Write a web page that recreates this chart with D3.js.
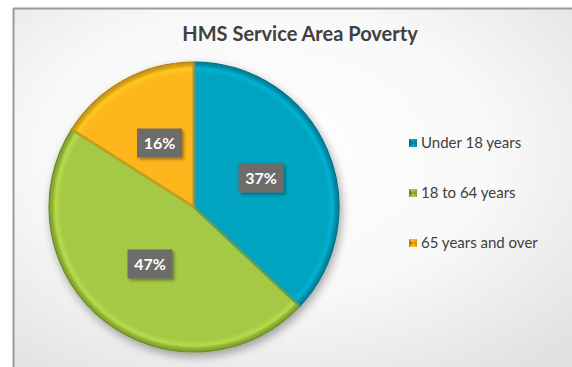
<!DOCTYPE html>
<html>
<head>
<meta charset="utf-8">
<script src="https://cdn.jsdelivr.net/npm/d3@7/dist/d3.min.js"></script>
<style>
  html, body { margin: 0; padding: 0; background: #ffffff; }
  svg { display: block; }
</style>
</head>
<body>
<svg id="chart" width="572" height="367"></svg>
<script>
// Poverty share by age group
const categories = ["Under 18 years", "18 to 64 years", "65 years and over"];
const values = [37, 47, 16];
const labels = ["37%", "47%", "16%"];
const colors = ["#05A3C0", "#A6C945", "#FDB71C"];
const darkColors = ["#046f86", "#6d8a22", "#b27d08"];
const title = "HMS Service Area Poverty";

const W = 572, H = 367;
const svg = d3.select("#chart");
const defs = svg.append("defs");

// Chart area background: soft radial glow
const bg = defs.append("radialGradient").attr("id", "bgGrad")
  .attr("cx", "45%").attr("cy", "40%").attr("r", "75%");
bg.append("stop").attr("offset", "0%").attr("stop-color", "#ffffff");
bg.append("stop").attr("offset", "55%").attr("stop-color", "#f8f8f8");
bg.append("stop").attr("offset", "100%").attr("stop-color", "#e2e2e2");

svg.append("rect").attr("x", 0).attr("y", 0).attr("width", W).attr("height", H).attr("fill", "#ffffff");
svg.append("rect").attr("x", 14).attr("y", 9).attr("width", W - 14).attr("height", H - 9)
  .attr("fill", "url(#bgGrad)");
// frame (top and left edges visible)
svg.append("line").attr("x1", 13.5).attr("y1", 8).attr("x2", 13.5).attr("y2", H).attr("stroke", "#9a9a9a").attr("stroke-width", 2);
svg.append("line").attr("x1", 13).attr("y1", 8.5).attr("x2", W).attr("y2", 8.5).attr("stroke", "#9a9a9a").attr("stroke-width", 2);

// Title
svg.append("text").attr("x", 300).attr("y", 41).attr("text-anchor", "middle")
  .attr("font-family", "Lato, 'Open Sans', sans-serif").attr("font-weight", "bold")
  .attr("font-size", 20).attr("fill", "#404040").text(title);

// Pie geometry
const cx = 194, cy = 207, R = 145;
const pie = d3.pie().sort(null).value(d => d)(values);
const arc = d3.arc().innerRadius(0).outerRadius(R);

// Shadow filter
const sh = defs.append("filter").attr("id", "pieShadow").attr("x", "-20%").attr("y", "-20%").attr("width", "140%").attr("height", "140%");
sh.append("feGaussianBlur").attr("in", "SourceAlpha").attr("stdDeviation", 5).attr("result", "b");
sh.append("feOffset").attr("in", "b").attr("dx", 2).attr("dy", 4).attr("result", "o");
sh.append("feComponentTransfer").attr("in", "o").attr("result", "s")
  .append("feFuncA").attr("type", "linear").attr("slope", 0.35);
const shm = sh.append("feMerge");
shm.append("feMergeNode").attr("in", "s");
shm.append("feMergeNode").attr("in", "SourceGraphic");

// Bevel rim gradients per slice
colors.forEach((c, i) => {
  const g = defs.append("radialGradient").attr("id", "rim" + i)
    .attr("gradientUnits", "userSpaceOnUse").attr("cx", 0).attr("cy", 0).attr("r", R);
  g.append("stop").attr("offset", "0%").attr("stop-color", c);
  g.append("stop").attr("offset", "92%").attr("stop-color", c);
  g.append("stop").attr("offset", "95.5%").attr("stop-color", d3.color(c).brighter(0.25));
  g.append("stop").attr("offset", "100%").attr("stop-color", darkColors[i]);
});

const pg = svg.append("g").attr("transform", `translate(${cx},${cy})`).attr("filter", "url(#pieShadow)");

pg.selectAll("path.slice").data(pie).join("path")
  .attr("class", "slice")
  .attr("d", arc)
  .attr("fill", (d, i) => `url(#rim${i})`)
  .attr("stroke", (d, i) => darkColors[i])
  .attr("stroke-width", 1.2)
  .attr("stroke-linejoin", "round");

// inner bevel along the straight edges
const bevelArc = d3.arc().innerRadius(0).outerRadius(R - 2);
pg.selectAll("path.bevel").data(pie).join("path")
  .attr("class", "bevel")
  .attr("d", bevelArc)
  .attr("fill", "none")
  .attr("stroke", (d, i) => d3.color(colors[i]).darker(0.4))
  .attr("stroke-opacity", 0.45)
  .attr("stroke-width", 3);

// Data labels
const labelPos = [[261, 178], [150, 264], [159.5, 143]];
const lab = defs.append("filter").attr("id", "labShadow").attr("x", "-20%").attr("y", "-20%").attr("width", "150%").attr("height", "150%");
lab.append("feDropShadow").attr("dx", 2).attr("dy", 2).attr("stdDeviation", 1.5).attr("flood-color", "#000").attr("flood-opacity", 0.35);

const lg = svg.append("g");
pie.forEach((d, i) => {
  const [lx, ly] = labelPos[i];
  const g = lg.append("g").attr("transform", `translate(${lx},${ly})`);
  g.append("rect").attr("x", -22.5).attr("y", -14.5).attr("width", 45).attr("height", 29)
    .attr("fill", "#6e6c69").attr("filter", "url(#labShadow)");
  g.append("text").attr("x", 0).attr("y", 6).attr("text-anchor", "middle")
    .attr("font-family", "Lato, 'Open Sans', sans-serif").attr("font-weight", "bold")
    .attr("font-size", 16).attr("fill", "#ffffff").text(labels[i]);
});

// Legend
const legY = [143, 193, 243];
const leg = svg.append("g");
categories.forEach((name, i) => {
  const y = legY[i];
  const m = leg.append("g").attr("transform", `translate(413,${y})`);
  m.append("rect").attr("x", -4).attr("y", -4).attr("width", 8).attr("height", 8).attr("fill", colors[i]);
  m.append("path").attr("d", "M-4,-4L0,0L-4,4Z").attr("fill", darkColors[i]);
  m.append("path").attr("d", "M4,-4L0,0L4,4Z").attr("fill", darkColors[i]).attr("opacity", 0.6);
  leg.append("text").attr("x", 421).attr("y", y + 5)
    .attr("font-family", "Lato, 'Open Sans', sans-serif").attr("font-size", 15)
    .attr("fill", "#404040").text(name);
});
</script>
</body>
</html>
